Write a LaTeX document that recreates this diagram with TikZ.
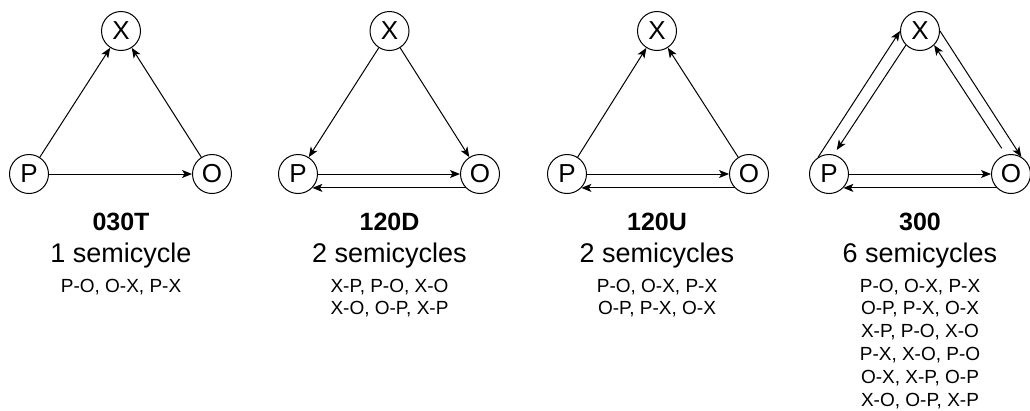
\documentclass[tikz,border=0pt]{standalone}
\usepackage{fontspec}
\setmainfont{Liberation Sans}
\usetikzlibrary{arrows.meta}
\begin{document}
\begin{tikzpicture}[x=1pt,y=-1pt,
  vtx/.style={circle,draw,line width=1pt,minimum size=39pt,inner sep=0pt,font=\fontsize{26}{26}\selectfont},
  arr/.style={line width=1pt,-{Stealth[length=10pt,width=8pt,inset=2.5pt]}},
  ttl/.style={anchor=base,inner sep=0pt,font=\fontsize{25}{28}\selectfont\bfseries},
  sub/.style={anchor=base,inner sep=0pt,font=\fontsize{27}{30}\selectfont},
  lst/.style={anchor=base,inner sep=0pt,font=\fontsize{19}{22}\selectfont}]
\useasboundingbox (0,0) rectangle (1030,410);
% panel 1
\node[vtx] (x1) at (121,31) {X};
\node[vtx] (p1) at (29,174) {P};
\node[vtx] (o1) at (212,174) {O};
\draw[arr] (p1) -- (x1);
\draw[arr] (o1) -- (x1);
\draw[arr] (p1) -- (o1);
\node[ttl] (t1) at (121,230) {030T};
\node[sub] (s1) at (121,262) {1 semicycle};
\node[lst] (l1a) at (121,292) {P-O, O-X, P-X};
% panel 2
\node[vtx] (x2) at (389.5,31) {X};
\node[vtx] (p2) at (298,174) {P};
\node[vtx] (o2) at (480,174) {O};
\draw[arr] (x2) -- (p2);
\draw[arr] (x2) -- (o2);
\draw[arr] (p2.east) -- (o2.west);
\draw[arr] (o2.224) -- (p2.316);
\node[ttl] (t2) at (389.5,230) {120D};
\node[sub] (s2) at (389.5,262) {2 semicycles};
\node[lst] (l2a) at (389.5,292) {X-P, P-O, X-O};
\node[lst] (l2b) at (389.5,314.8) {X-O, O-P, X-P};
% panel 3
\node[vtx] (x3) at (657,31) {X};
\node[vtx] (p3) at (567,174) {P};
\node[vtx] (o3) at (749,174) {O};
\draw[arr] (p3) -- (x3);
\draw[arr] (o3) -- (x3);
\draw[arr] (p3.east) -- (o3.west);
\draw[arr] (o3.224) -- (p3.316);
\node[ttl] (t3) at (657,230) {120U};
\node[sub] (s3) at (657,262) {2 semicycles};
\node[lst] (l3a) at (657,292) {P-O, O-X, P-X};
\node[lst] (l3b) at (657,314.8) {O-P, P-X, O-X};
% panel 4
\node[vtx] (x4) at (920,31) {X};
\node[vtx] (p4) at (829,174) {P};
\node[vtx] (o4) at (1011,174) {O};
\coordinate (p4in) at (836.7,150);
\coordinate (o4in) at (1001.7,148.3);
\draw[arr] (p4.123) -- (x4.180);
\draw[arr] (x4.225) -- (p4in);
\draw[arr] (x4.0) -- (o4.59);
\draw[arr] (o4in) -- (x4.315);
\draw[arr] (p4.east) -- (o4.west);
\draw[arr] (o4.224) -- (p4.316);
\node[ttl] (t4) at (920,230) {300};
\node[sub] (s4) at (920,262) {6 semicycles};
\node[lst] (l4a) at (920,292) {P-O, O-X, P-X};
\node[lst] (l4b) at (920,314.8) {O-P, P-X, O-X};
\node[lst] (l4c) at (920,337.6) {X-P, P-O, X-O};
\node[lst] (l4d) at (920,360.4) {P-X, X-O, P-O};
\node[lst] (l4e) at (920,383.2) {O-X, X-P, O-P};
\node[lst] (l4f) at (920,406) {X-O, O-P, X-P};
\end{tikzpicture}
\end{document}
